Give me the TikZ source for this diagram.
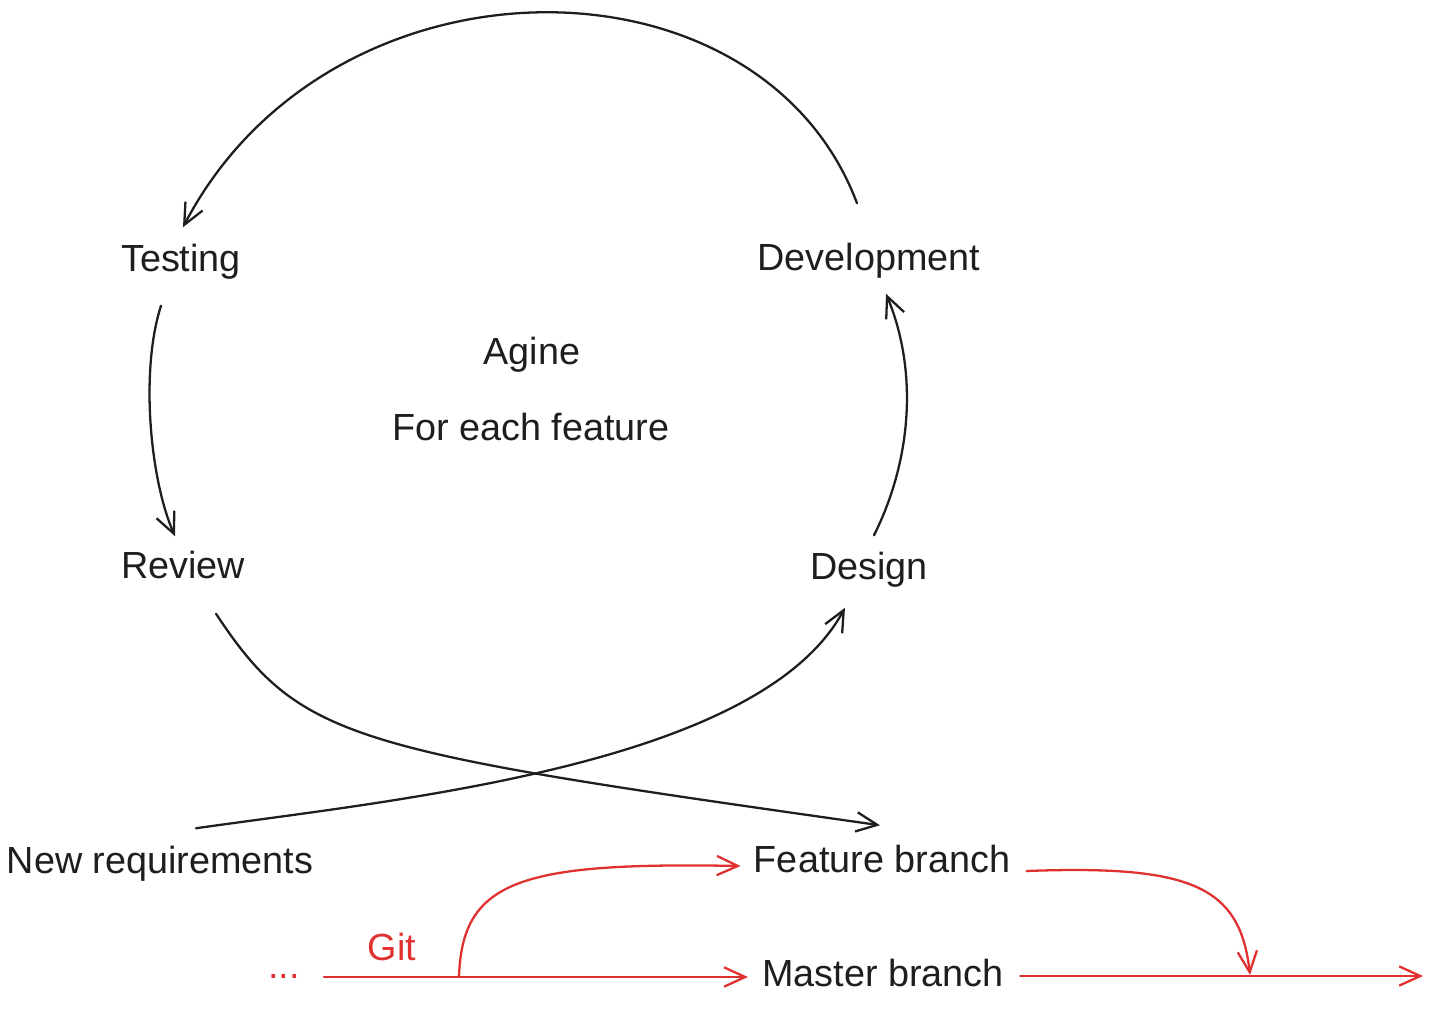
\documentclass[tikz,border=0pt]{standalone}
\usepackage{fontspec}
\setmainfont{Liberation Sans}
\usepackage{xcolor}
\usepackage{tikz}
\usetikzlibrary{arrows.meta}
\definecolor{ink}{HTML}{1E1E1E}
\definecolor{gitred}{HTML}{E03131}

\begin{document}
\begin{tikzpicture}[x=0.02cm, y=-0.02cm,
  lbl/.style={font=\fontsize{21.5}{26}\selectfont, text=ink, inner sep=0pt, text height=15.5pt, text depth=4.3pt},
  flow/.style={draw=ink, line width=1.3pt, line cap=round, -{Straight Barb[length=12pt,width=11pt]}},
  git/.style={flow, draw=gitred}]
\useasboundingbox (0,0) rectangle (1434,1010);
\node[lbl] (test) at (181,262) {Testing};
\node[lbl] (dev) at (869,261) {Development};
\node[lbl] (review) at (183,569) {Review};
\node[lbl] (design) at (869,570) {Design};
\node[lbl] (title) at (532,355) {Agine};
\node[lbl] (each) at (531,431) {For each feature};
\node[lbl] (newreq) at (160,864) {New requirements};
\node[lbl] (fbranch) at (882,863) {Feature branch};
\node[lbl] (mbranch) at (883,977) {Master branch};
\node[lbl, text=gitred] (git) at (392,951) {Git};
\node[lbl, text=gitred] (dots) at (284,969) {...};
\coordinate (gstart) at (324,977);
\coordinate (fork) at (459,977);
\coordinate (merge) at (1250,975);
\coordinate (gend) at (1423,976);
\draw[flow] ([shift={(-12,-40)}]dev.north) .. controls +(-97,-258) and +(147,-282) .. ([shift={(2,-17)}]test.north);
\draw[flow] ([shift={(-20,26)}]test.south) .. controls +(-21,65) and +(-25,-57) .. ([shift={(-8,-15)}]review.north);
\draw[flow] ([shift={(33,27)}]review.south) .. controls +(84,127) and +(-530,-75) .. ([shift={(-2,-20)}]fbranch.north);
\draw[flow] ([shift={(36,-18)}]newreq.north) .. controls +(204,-29) and +(-85,157) .. ([shift={(-24,20)}]design.south);
\draw[flow] ([shift={(5,-17)}]design.north) .. controls +(38,-76) and +(32,77) .. ([shift={(17,15)}]dev.south);
\draw[git] (gstart) -- ([shift={(-14,0)}]mbranch.west);
\draw[git] (fork) .. controls +(3,-97) and +(-220,-4) .. ([shift={(-13,3)}]fbranch.west);
\draw[git] ([shift={(16,8)}]fbranch.east) .. controls +(163,-6) and +(-10,-90) .. (merge);
\draw[git] ([shift={(16,-1)}]mbranch.east) -- (gend);
\end{tikzpicture}
\end{document}
